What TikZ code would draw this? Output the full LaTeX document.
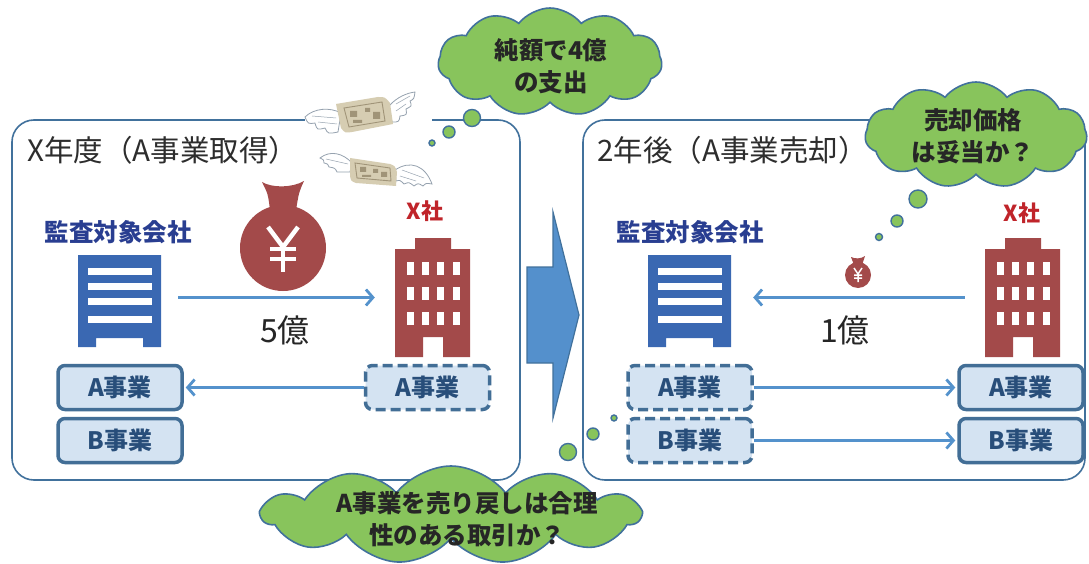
\documentclass[tikz,border=0pt]{standalone}
\usepackage{fontspec}
\setmainfont{Noto Sans CJK JP}
\usetikzlibrary{shapes.symbols,arrows.meta}

\definecolor{panelline}{RGB}{65,113,156}
\definecolor{titlegray}{RGB}{45,45,45}
\definecolor{navy}{RGB}{41,62,145}
\definecolor{bldblue}{RGB}{58,104,178}
\definecolor{bldred}{RGB}{163,74,74}
\definecolor{xred}{RGB}{192,36,42}
\definecolor{flowblue}{RGB}{84,146,204}
\definecolor{boxfill}{RGB}{212,227,242}
\definecolor{boxline}{RGB}{66,110,150}
\definecolor{boxtext}{RGB}{40,78,122}
\definecolor{cloudgreen}{RGB}{136,196,92}
\definecolor{bigarrow}{RGB}{84,144,204}
\definecolor{notefill}{RGB}{214,205,178}
\definecolor{noteprint}{RGB}{160,148,120}
\definecolor{wingline}{RGB}{150,162,175}

\tikzset{
  panel/.style={draw=panelline, line width=1.6pt, rounded corners=22pt},
  ttl/.style={anchor=west, inner sep=0, text=titlegray, font=\fontsize{29.5}{32}\selectfont},
  cname/.style={inner sep=0, text=navy, font=\bfseries\fontsize{24.5}{26}\selectfont},
  xname/.style={inner sep=0, text=xred, font=\bfseries\fontsize{22}{24}\selectfont},
  amount/.style={inner sep=0, text=black!85, font=\fontsize{32}{34}\selectfont},
  biz/.style={draw=boxline, line width=3.5pt, fill=boxfill, rounded corners=7pt,
    minimum width=124pt, minimum height=44pt, inner sep=0, text=boxtext,
    font=\bfseries\fontsize{24}{26}\selectfont},
  bizd/.style={biz, dash pattern=on 10pt off 5pt},
  flow/.style={draw=flowblue, line width=2.8pt, -{Straight Barb[length=7pt,width=16pt]}},
  thought/.style={cloud, cloud puffs=11, cloud puff arc=105, cloud ignores aspect,
    fill=cloudgreen, draw=panelline, line width=1.6pt, inner sep=0},
  bubble/.style={circle, fill=cloudgreen, draw=panelline, line width=1.4pt, inner sep=0},
  say/.style={inner sep=0, align=center, text=black!85, font=\bfseries\fontsize{24.5}{32}\selectfont},
  anchorbox/.style={inner sep=0, draw=none},
  wing/.style={fill=white, draw=wingline, line width=0.8pt},
  yen/.style={draw=white, line width=4.5pt},
}

% office block of the audited company, top-left corner at (#1,#2)
\newcommand{\DrawOfficeBlue}[2]{%
  \begin{scope}[shift={(#1,#2)}]
    \fill[bldblue] (0,0) -- (83,0) -- (83,92) -- (65,92) -- (65,83) -- (18,83) -- (18,92) -- (0,92) -- cycle;
    \foreach \yy in {13,28,43,61} {\fill[white] (10,\yy) rectangle (74,\yy+7);}
  \end{scope}}

% tower of company X, top-left corner at (#1,#2)
\newcommand{\DrawOfficeRed}[2]{%
  \begin{scope}[shift={(#1,#2)}]
    \fill[bldred] (20,0) -- (56,0) -- (56,11) -- (75,11) -- (75,119) -- (48,119) -- (48,99)
      -- (28,99) -- (28,119) -- (0,119) -- (0,11) -- (20,11) -- cycle;
    \foreach \xx in {12,27,42,58} {
      \foreach \yy in {24,49,74} {\fill[white] (\xx,\yy) rectangle (\xx+6.5,\yy+13);}}
  \end{scope}}

\begin{document}
\begin{tikzpicture}[x=1pt,y=-1pt]
\useasboundingbox (0,0) rectangle (1089,564);
\fill[white] (0,0) rectangle (1089,564);

% the two periods
\draw[panel] (12,120) rectangle (520,480);
\draw[panel] (583,120) rectangle (1085,480);
\node[ttl] (t1) at (27,150) {X年度（A事業取得）};
\node[ttl] (t2) at (597,150) {2年後（A事業売却）};

% passing of time
\filldraw[fill=bigarrow, draw=panelline, line width=1.2pt]
  (527,267) -- (553,267) -- (553,212) -- (579,315) -- (553,418) -- (553,363) -- (527,363) -- cycle;

% ---------- year X ----------
\node[cname] (audL) at (118,232) {監査対象会社};
\DrawOfficeBlue{78}{255}
\node[anchorbox, minimum width=83pt, minimum height=92pt] (bldL) at (119.5,301) {};
\node[xname] (xL) at (425,211) {X社};
\DrawOfficeRed{395}{238}
\node[anchorbox, minimum width=75pt, minimum height=119pt] (bldXL) at (432.5,297.5) {};

% money bag
\fill[bldred] (283,248) circle (43);
\fill[bldred] (262,182) .. controls (272,188) and (292,188) .. (304,181)
  .. controls (299,192) .. (296,210) -- (270,210) .. controls (268,194) .. (262,182) -- cycle;
\draw[yen] (268,227) -- (283,247) -- (298,227);
\draw[yen] (283,247) -- (283,272);
\draw[yen] (270,249) -- (296,249) (270,259) -- (296,259);

\draw[flow] ([xshift=17pt]bldL.east |- bldXL.west) -- ([xshift=-20pt]bldXL.west);
\node[amount] (amtL) at (285,330) {5億};

\node[biz] (aL) at (120,387.5) {A事業};
\node[biz] (bL) at (120,440.5) {B事業};
\node[bizd] (aXL) at (427.5,387.5) {A事業};
\draw[flow, shorten >=2pt] (aXL.west) -- (aL.east);

% banknotes flying away
\fill[white] (305,90) rectangle (432,193);
\draw[wing] (341,113) .. controls (330,107) and (314,108) .. (305,117)
  .. controls (308,124) .. (315,123) .. controls (317,130) .. (325,128)
  .. controls (328,134) .. (338,132) -- cycle;
\draw[wing] (389,106) .. controls (397,97) and (407,93) .. (415,92)
  .. controls (414,99) .. (410,101) .. controls (412,106) .. (406,109)
  .. controls (407,115) .. (400,116) .. controls (399,122) .. (392,122) -- cycle;
\draw[wing, line width=0.5pt] (312,116) -- (336,118) (318,122) -- (337,124) (396,104) -- (410,96) (396,111) -- (406,104);
\fill[notefill] (336,104) -- (378,97) .. controls (385,97) .. (390,103) -- (393,124)
  -- (352,132) .. controls (345,133) .. (341,128) -- cycle;
\draw[noteprint, line width=0.9pt] (344,108) -- (382,102) -- (385,121) -- (349,127) -- cycle;
\fill[noteprint] (350,111) rectangle (357,117) (365,108) rectangle (370,112) (373,112) rectangle (380,119) (353,120) rectangle (362,123);

\draw[wing] (352,163) .. controls (343,153) and (330,150) .. (320,158)
  .. controls (324,160) .. (324,163) .. controls (328,164) .. (329,167)
  .. controls (335,168) .. (337,172) -- (350,172) -- cycle;
\draw[wing] (395,170) .. controls (410,160) and (425,165) .. (432,184)
  .. controls (426,183) .. (423,186) .. controls (418,183) .. (414,186)
  .. controls (409,182) .. (404,184) .. controls (400,180) .. (396,181) -- cycle;
\draw[wing, line width=0.5pt] (326,159) -- (348,164) (402,170) -- (424,178) (400,176) -- (416,181);
\fill[notefill] (350,158) -- (390,164) .. controls (395,166) .. (397,172) -- (396,186)
  -- (356,183) .. controls (351,181) .. (350,176) -- cycle;
\draw[noteprint, line width=0.9pt] (355,163) -- (390,168) -- (391,181) -- (357,178) -- cycle;
\fill[noteprint] (360,167) rectangle (366,172) (373,169) rectangle (378,173) (381,172) rectangle (387,177) (362,175) rectangle (371,177);

% ---------- two years later ----------
\node[cname] (audR) at (690,232) {監査対象会社};
\DrawOfficeBlue{648}{255}
\node[anchorbox, minimum width=83pt, minimum height=92pt] (bldR) at (689.5,301) {};
\node[xname] (xR) at (1022,213) {X社};
\DrawOfficeRed{985}{238}
\node[anchorbox, minimum width=75pt, minimum height=119pt] (bldXR) at (1022.5,297.5) {};

% small money bag
\fill[bldred] (858,275) circle (13);
\fill[bldred] (851,257) .. controls (855,259) and (861,259) .. (865,256)
  .. controls (863,261) .. (862,265) -- (854,265) .. controls (853,261) .. (851,257) -- cycle;
\draw[yen, line width=1.5pt] (854,268) -- (858,274) -- (862,268) (858,274) -- (858,282)
  (854,275) -- (862,275) (854,278) -- (862,278);

\draw[flow] ([xshift=-20pt]bldXR.west) -- ([xshift=22pt]bldR.east |- bldXR.west);
\node[amount] (amtR) at (845,330) {1億};

\node[bizd] (aR) at (690,387.5) {A事業};
\node[bizd] (bR) at (690,440.5) {B事業};
\node[biz] (aXR) at (1021,387.5) {A事業};
\node[biz] (bXR) at (1021,440.5) {B事業};
\draw[flow, shorten >=2pt] (aR.east) -- (aXR.west);
\draw[flow, shorten >=2pt] (bR.east) -- (bXR.west);

% ---------- thoughts ----------
\node[thought, minimum width=224pt, minimum height=108pt] (c1) at (550,62) {};
\node[say] (s1) at (551,66) {純額で4億\\の支出};
\node[bubble, minimum size=17pt] (c1a) at (472,118) {};
\node[bubble, minimum size=12pt] (c1b) at (449,132) {};
\node[bubble, minimum size=6pt] (c1c) at (432,143) {};

\node[thought, minimum width=222pt, minimum height=106pt] (c2) at (976,135) {};
\node[say] (s2) at (973,136) {売却価格\\は妥当か？};
\node[bubble, minimum size=18pt] (c2a) at (918,199) {};
\node[bubble, minimum size=12pt] (c2b) at (897,221) {};
\node[bubble, minimum size=7pt] (c2c) at (879,237) {};

\node[thought, minimum width=378pt, minimum height=98pt] (c3) at (451,515) {};
\node[say] (s3) at (467,519) {A事業を売り戻しは合理\\性のある取引か？};
\node[bubble, minimum size=17pt] (c3a) at (568,452) {};
\node[bubble, minimum size=12pt] (c3b) at (593,434) {};
\node[bubble, minimum size=6pt] (c3c) at (614,418) {};
\end{tikzpicture}
\end{document}
